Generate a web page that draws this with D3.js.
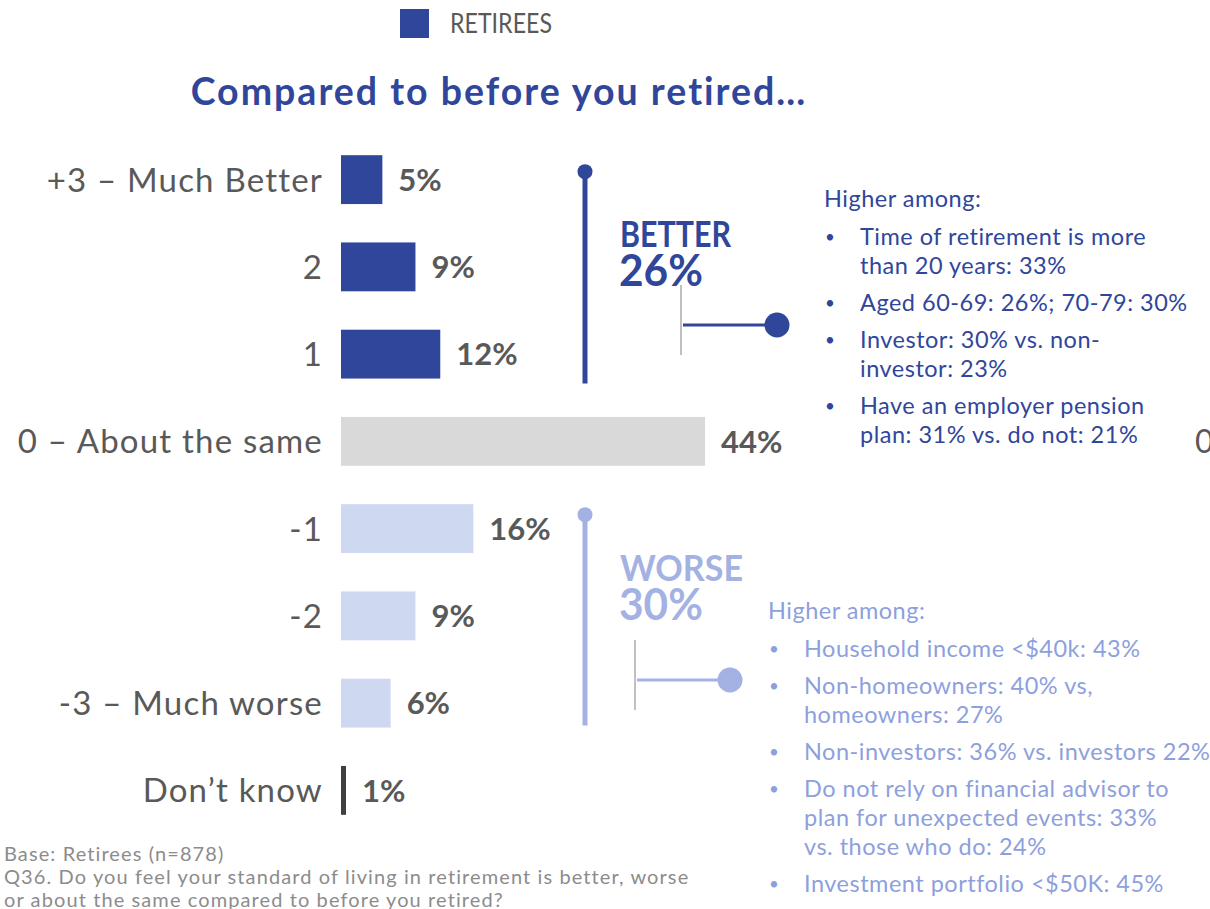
<!DOCTYPE html>
<html>
<head>
<meta charset="utf-8">
<script src="https://cdn.jsdelivr.net/npm/d3@7"></script>
<style>
  body { margin: 0; background: #fff; }
  svg { display: block; font-family: Lato, "Open Sans", sans-serif; }
</style>
</head>
<body>
<script>
const w = 1210;
const h = 909;

// data
const categories = ["+3 – Much Better", "2", "1", "0 – About the same", "-1", "-2", "-3 – Much worse", "Don’t know"];
const values = [5, 9, 12, 44, 16, 9, 6, 1];
const groups = ["better", "better", "better", "same", "worse", "worse", "worse", "dk"];
const legendLabel = "RETIREES";
const title = "Compared to before you retired…";
const netLabels = ["BETTER", "WORSE"];
const netValues = [26, 30];
const betterNotes = [
  ["Time of retirement is more", "than 20 years: 33%"],
  ["Aged 60-69: 26%; 70-79: 30%"],
  ["Investor: 30% vs. non-", "investor: 23%"],
  ["Have an employer pension", "plan: 31% vs. do not: 21%"]
];
const worseNotes = [
  ["Household income <$40k: 43%"],
  ["Non-homeowners: 40% vs,", "homeowners: 27%"],
  ["Non-investors: 36% vs. investors 22%"],
  ["Do not rely on financial advisor to", "plan for unexpected events: 33%", "vs. those who do: 24%"],
  ["Investment portfolio <$50K: 45%"]
];
const footnotes = [
  "Base: Retirees (n=878)",
  "Q36. Do you feel your standard of living in retirement is better, worse",
  "or about the same compared to before you retired?"
];

const dark = "#2f469b";
const light = "#cfd8f1";
const lightLine = "#a4b2e3";
const lightText = "#8e9fdd";
const grey = "#595959";
const color = d3.scaleOrdinal()
    .domain(["better", "same", "worse", "dk"])
    .range([dark, "#d9d9d9", light, "#404040"]);

const svg = d3.select('body').append('svg')
    .attr('width', w)
    .attr('height', h);

const x = d3.scaleLinear()
    .domain([0, 44])
    .range([341, 705]);

const y = d3.scaleBand()
    .domain(categories)
    .range([136, 834])
    .paddingInner(0.44)
    .paddingOuter(0.22);

// legend
svg.append('rect')
    .attr('x', 400).attr('y', 9)
    .attr('width', 29).attr('height', 29)
    .style('fill', dark);
svg.append('text')
    .attr('x', 450).attr('y', 33)
    .attr('textLength', 102)
    .attr('lengthAdjust', 'spacingAndGlyphs')
    .style('font-size', '26px')
    .style('fill', grey)
    .text(legendLabel);

// title
svg.append('text')
    .attr('x', 499).attr('y', 105)
    .attr('text-anchor', 'middle')
    .style('font-size', '37.5px')
    .style('letter-spacing', '2px')
    .style('font-weight', 700)
    .style('fill', dark)
    .text(title);

// bars
const rows = categories.map((c, i) => ({ cat: c, value: values[i], group: groups[i] }));

svg.selectAll('.bar')
    .data(rows)
    .enter()
    .append('rect')
      .classed('bar', true)
      .attr('x', x(0))
      .attr('y', d => y(d.cat))
      .attr('width', d => d.group == "dk" ? 5 : x(d.value) - x(0))
      .attr('height', y.bandwidth())
      .style('fill', d => color(d.group));

svg.selectAll('.cat')
    .data(rows)
    .enter()
    .append('text')
      .classed('cat', true)
      .attr('x', 323)
      .attr('y', d => y(d.cat) + y.bandwidth() / 2)
      .attr('dy', '0.36em')
      .attr('text-anchor', 'end')
      .style('font-size', '33px')
      .style('letter-spacing', '1.2px')
      .style('fill', grey)
      .text(d => d.cat);

svg.selectAll('.val')
    .data(rows)
    .enter()
    .append('text')
      .classed('val', true)
      .attr('x', d => (d.group == "dk" ? x(0) + 5 : x(d.value)) + 16)
      .attr('y', d => y(d.cat) + y.bandwidth() / 2)
      .attr('dy', '0.36em')
      .style('font-size', '31px')
      .style('font-weight', 700)
      .style('fill', grey)
      .text(d => d.value + '%');

// stray clipped label at right edge
svg.append('text')
    .attr('x', 1195)
    .attr('y', y(categories[3]) + y.bandwidth() / 2)
    .attr('dy', '0.36em')
    .style('font-size', '32px')
    .style('fill', grey)
    .text('0');

// net brackets
function bracket(first, last, i, col, dTop, dBottom, connX, dotX, connY) {
  const top = y(first) + y.bandwidth() / 2 + dTop;
  const bottom = y(last) + y.bandwidth() + dBottom;
  svg.append('line')
      .attr('x1', 585).attr('x2', 585)
      .attr('y1', top).attr('y2', bottom)
      .style('stroke', col)
      .style('stroke-width', 5);
  svg.append('circle')
      .attr('cx', 585).attr('cy', top)
      .attr('r', 7.5)
      .style('fill', col);
  svg.append('text')
      .attr('x', 620).attr('y', top + (i == 0 ? 75 : 66))
      .attr('textLength', i == 0 ? 111 : 123)
      .attr('lengthAdjust', 'spacingAndGlyphs')
      .style('font-size', '36px')
      .style('font-weight', 700)
      .style('fill', col)
      .text(netLabels[i]);
  svg.append('text')
      .attr('x', 619).attr('y', top + (i == 0 ? 114 : 105))
      .attr('textLength', 84)
      .attr('lengthAdjust', 'spacingAndGlyphs')
      .style('font-size', '44px')
      .style('font-weight', 700)
      .style('fill', col)
      .text(netValues[i] + '%');
  svg.append('line')
      .attr('x1', connX).attr('x2', connX)
      .attr('y1', connY - 40).attr('y2', connY + 30)
      .style('stroke', '#c0c0c0')
      .style('stroke-width', 2);
  svg.append('line')
      .attr('x1', connX + 2).attr('x2', dotX)
      .attr('y1', connY).attr('y2', connY)
      .style('stroke', col)
      .style('stroke-width', 3);
  svg.append('circle')
      .attr('cx', dotX).attr('cy', connY)
      .attr('r', 12.5)
      .style('fill', col);
}

bracket(categories[0], categories[2], 0, dark, -8, 5, 681, 777, 325);
bracket(categories[4], categories[6], 1, lightLine, -14, -2, 635, 730, 680);

// notes
function notes(list, x0, y0, col) {
  const g = svg.append('g')
      .style('fill', col)
      .style('font-size', '23.5px')
      .style('letter-spacing', '0.5px');
  g.append('text')
      .attr('x', x0).attr('y', y0)
      .text('Higher among:');
  let yy = y0 + 38;
  list.forEach(item => {
    g.append('text')
        .attr('x', x0 + 1).attr('y', yy - 2)
        .style('font-size', '17px')
        .text('•');
    item.forEach((line, j) => {
      g.append('text')
          .attr('x', x0 + 36).attr('y', yy + j * 29)
          .text(line);
    });
    yy += (item.length - 1) * 29 + 37;
  });
}

notes(betterNotes, 824, 207, dark);
notes(worseNotes, 768, 619, lightText);

// footnote
svg.selectAll('.foot')
    .data(footnotes)
    .enter()
    .append('text')
      .classed('foot', true)
      .attr('x', 4)
      .attr('y', (d, i) => 861 + i * 23)
      .style('font-size', '20px')
      .style('letter-spacing', '1.1px')
      .style('fill', '#8c8c8c')
      .text(d => d);
</script>
</body>
</html>
